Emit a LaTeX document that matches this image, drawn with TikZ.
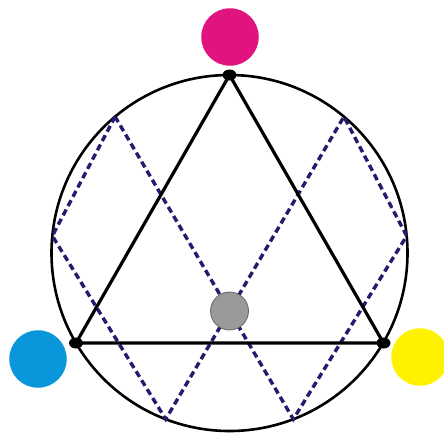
\documentclass[tikz,border=0pt]{standalone}
\usetikzlibrary{shapes.geometric,calc}
\definecolor{mag}{HTML}{E0137F}
\definecolor{cyn}{HTML}{0A96DA}
\definecolor{yel}{HTML}{FFF200}
\definecolor{gry}{HTML}{9A9A9A}
\definecolor{navy}{HTML}{231C6E}
\tikzset{
  blob/.style={circle, draw=none, inner sep=0pt, minimum size=57.5pt},
  vtx/.style={ellipse, fill=black, inner sep=0pt, minimum width=14pt, minimum height=11pt},
  tri/.style={line width=3.2pt, black},
  ring/.style={line width=2.6pt, black},
  dsh/.style={line width=3.4pt, navy, dash pattern=on 6.5pt off 4pt, line join=miter},
}
\begin{document}
\begin{tikzpicture}[x=1pt, y=-1pt]
\useasboundingbox (0,0) rectangle (444,432);
% circle
\coordinate (O) at (229.5,253);
\draw[ring] (O) circle[radius=178];
% dashed zigzag points on the circle (angles negated because y points down)
\path (O) ++(-130:178) coordinate (p1);
\path (O) ++(-174.5:178) coordinate (p2);
\path (O) ++(-249:178) coordinate (p3);
\path (O) ++(-50:178) coordinate (p4);
\path (O) ++(-5.5:178) coordinate (p5);
\path (O) ++(-291:178) coordinate (p6);
\draw[dsh] (p1) -- (p2) -- (p3) -- (p4) -- (p5) -- (p6) -- cycle;
% triangle
\node[vtx] (top) at (229.5,75) {};
\node[vtx] (lft) at (76,343) {};
\node[vtx] (rgt) at (383.5,343) {};
\draw[tri] (top.center) -- (lft.center) -- (rgt.center) -- cycle;
% colored discs
\node[blob, fill=mag] (m) at (230,37) {};
\node[blob, fill=cyn] (c) at (38,359) {};
\node[blob, fill=yel] (y) at (420,357) {};
\node[circle, fill=gry, draw=black!60, line width=0.8pt, inner sep=0pt, minimum size=38pt] (g) at (229.5,311) {};
\end{tikzpicture}
\end{document}
